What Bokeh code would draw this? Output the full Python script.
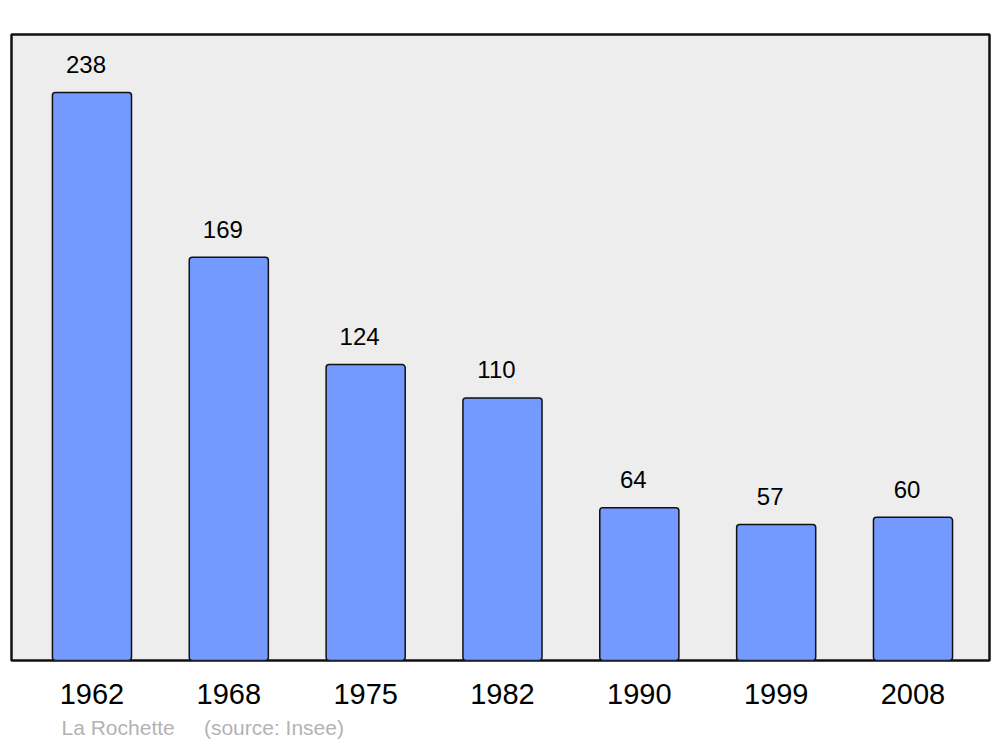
from bokeh.plotting import figure
from bokeh.models import ColumnDataSource, FixedTicker, Range1d, Title
from bokeh.core.properties import value
from bokeh.embed import file_html
from bokeh.resources import INLINE

years = ["1962", "1968", "1975", "1982", "1990", "1999", "2008"]
population = [238, 169, 124, 110, 64, 57, 60]
idx = list(range(len(years)))

src = ColumnDataSource(dict(x=idx, top=population, lbl=[str(v) for v in population]))

p = figure(width=1000, height=747, output_backend="svg", toolbar_location=None,
           x_range=Range1d(-0.588, 6.559), y_range=Range1d(0, 262.3),
           min_border_left=11, min_border_right=11, min_border_top=34, min_border_bottom=87)
p.background_fill_color = "#ededed"
p.border_fill_color = "white"
p.outline_line_color = "#111111"
p.outline_line_width = 2.5
p.grid.visible = False
p.yaxis.visible = False

p.vbar(x="x", top="top", width=0.578, bottom=0, source=src,
       fill_color="#7499ff", line_color="#111111", line_width=1.5, border_radius=3)
p.text(x="x", y="top", text="lbl", source=src, x_offset=-6, y_offset=-28,
       text_align="center", text_baseline="alphabetic",
       text_font=value("Liberation Sans"), text_font_size="24px", text_color="black")

ax = p.xaxis[0]
ax.ticker = FixedTicker(ticks=idx)
ax.major_label_overrides = {i: y for i, y in zip(idx, years)}
ax.axis_line_color = None
ax.major_tick_line_color = None
ax.minor_tick_line_color = None
ax.major_label_text_font = "Liberation Sans"
ax.major_label_text_font_size = "29px"
ax.major_label_text_color = "black"
ax.major_label_standoff = 17

p.add_layout(Title(text="La Rochette\u00a0\u00a0\u00a0\u00a0\u00a0(source: Insee)", align="left", offset=50,
                   text_font="Liberation Sans", text_font_size="21px", text_font_style="normal",
                   text_color="#b3b3b3", standoff=15), "below")

open("out.html", "w").write(file_html(p, INLINE))
